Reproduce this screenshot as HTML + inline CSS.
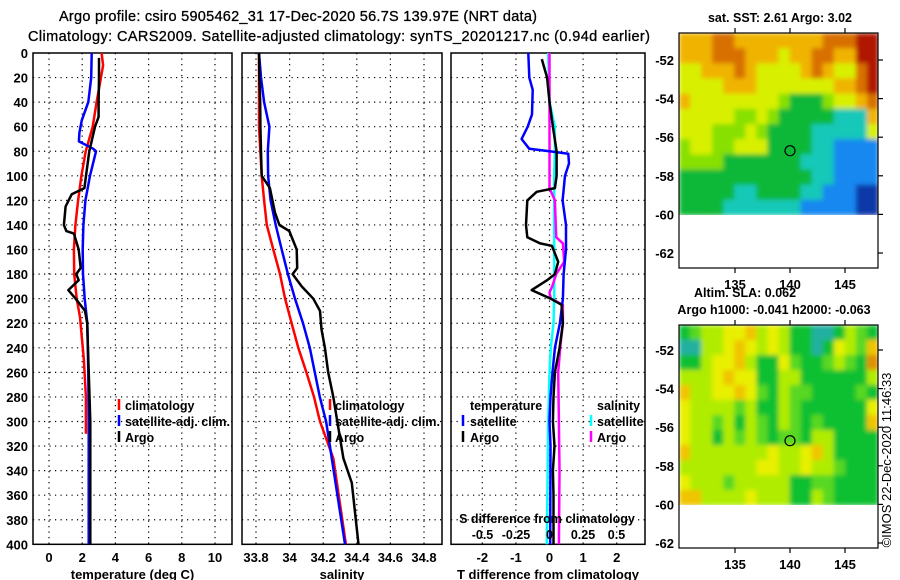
<!DOCTYPE html>
<html><head><meta charset="utf-8"><style>
html,body{margin:0;padding:0;background:#fff;}
svg{display:block;font-family:"Liberation Sans",sans-serif;}
text{fill:#000;}
</style></head><body>
<svg id="c" width="900" height="580" viewBox="0 0 900 580" xmlns="http://www.w3.org/2000/svg">
<defs>
<filter id="blur" x="0" y="0" width="1" height="1"><feGaussianBlur stdDeviation="2.5" edgeMode="duplicate"/></filter>
<clipPath id="clipTop"><rect x="679" y="33" width="199" height="182"/></clipPath>
<clipPath id="clipBot"><rect x="679" y="325" width="199" height="180"/></clipPath>
</defs>
</svg>
<script>
// ---------- data ----------
const depthTicks=[0,20,40,60,80,100,120,140,160,180,200,220,240,260,280,300,320,340,360,380,400];
const tempTicks=[0,2,4,6,8,10];
const salTicks=[33.8,34,34.2,34.4,34.6,34.8];
const tdiffTicks=[-2,-1,0,1,2];
const sdiffTicks=[-0.5,-0.25,0,0.25,0.5];
const sdiffTickLabels=['-0.5','-0.25','0','0.25','0.5'];

const climTDepth=[0,10,40,60,80,100,120,140,160,180,200,215,250,280,310];
const climTVal=[3.17,3.26,2.87,2.63,2.21,1.95,1.75,1.59,1.5,1.52,1.67,1.87,2.1,2.22,2.22];
const satTDepth=[0,20,40,55,65,72,78,80,100,120,140,160,180,200,220,260,300,400];
const satTVal=[2.57,2.54,2.37,1.97,1.83,1.8,2.67,2.83,2.47,2.19,2.07,2.03,2.05,2.15,2.31,2.37,2.39,2.39];
const argoTDepth=[4,20,40,52,60,80,100,110,115,125,140,145,147,160,175,180,185,193,200,210,220,300,400];
const argoTVal=[3.01,3.01,2.99,2.99,2.77,2.43,2.23,2.13,1.37,1.0,0.9,1.05,1.5,1.79,1.91,1.64,1.79,1.16,1.6,2.17,2.3,2.49,2.49];

const climSDepth=[0,60,100,120,140,160,180,200,220,240,260,280,300,330,400];
const climSVal=[33.818,33.818,33.834,33.848,33.864,33.903,33.943,33.973,34.012,34.052,34.10,34.145,34.181,34.26,34.335];
const satSDepth=[0,20,40,60,80,100,120,140,160,180,200,220,240,260,280,300,400];
const satSVal=[33.818,33.83,33.848,33.88,33.87,33.872,33.887,33.917,33.953,33.99,34.032,34.08,34.12,34.15,34.18,34.217,34.33];
const argoSDepth=[0,20,40,60,80,100,110,130,140,145,160,175,180,190,200,210,225,240,260,280,300,330,350,400];
const argoSVal=[33.818,33.82,33.825,33.826,33.83,33.834,33.883,33.913,33.939,33.998,34.042,34.045,34.018,34.072,34.141,34.181,34.19,34.21,34.23,34.26,34.284,34.32,34.37,34.41];

const satDTDepth=[0,20,30,50,60,70,78,80,82,90,100,120,140,160,180,200,220,240,260,280,300,320,400];
const satDTVal=[-0.63,-0.6,-0.5,-0.52,-0.65,-0.83,-0.6,0.0,0.56,0.58,0.46,0.39,0.49,0.49,0.42,0.4,0.31,0.16,0.09,0.03,0.0,0.03,0.02];
const argoDTDepth=[5,20,40,60,80,100,110,113,120,140,150,155,157,170,180,185,193,200,205,220,240,260,280,300,320,340,360,400];
const argoDTVal=[-0.23,-0.07,0.0,0.1,0.21,0.21,0.16,-0.38,-0.66,-0.7,-0.66,-0.28,0.07,0.26,0.16,-0.07,-0.53,0.04,0.36,0.4,0.3,0.16,0.12,0.1,0.15,0.1,0.12,0.12];
const argoDSDepth=[0,110,120,150,155,170,180,190,195,200,205,220,240,260,300,340,400];
const argoDSVal=[0.0,0.0,0.04,0.05,0.1,0.11,0.05,0.02,0.0,0.01,0.1,0.1,0.08,0.065,0.07,0.075,0.07];
const satDSDepth=[0,40,60,80,100,140,200,220,240,260,300,400];
const satDSVal=[-0.01,0.0,0.04,0.04,0.035,0.035,0.035,0.03,0.01,0.0,-0.01,-0.02];

const sstGrid=[
"666776666666677788","666777666566776688","556667655556765578","555566655555556678",
"655555555433345567","555554454333332226","555444543333222225","455445553333221111",
"444433333332221111","333333333333221111","333332233332211100","333322222221111100"];
const slaGrid=[
"123344534311001321","003345434311014325","113445311421123216","333454411331111113",
"533445421322111121","433332311321111114","433231321321211115","433132321221331111",
"533333334334531111","333333344334332111","433323333311221111","553333433311321111"];
const sstColors=['#0838a8','#1888f0','#18c8b8','#10b838','#88e000','#d8f000','#f0b400','#d87000','#b01800'];
const slaColors=['#20b0a0','#10c030','#58d820','#b0ec00','#e8f000','#f0c400','#e09000'];

// ---------- helpers ----------
const svg=document.getElementById('c');
const NS='http://www.w3.org/2000/svg';
function mk(tag,attrs,parent){const e=document.createElementNS(NS,tag);for(const k in attrs)e.setAttribute(k,attrs[k]);(parent||svg).appendChild(e);return e;}
function txt(x,y,s,anchor,size,parent){const t=mk('text',{x:x,y:y,'text-anchor':anchor||'middle','font-size':size||13,'font-weight':'bold'},parent);t.textContent=s;return t;}
const Y0=53,YS=1.2283;
function yD(d){return Y0+YS*d;}
const xT=v=>49+16.6*v;
const xS=v=>256+168*(v-33.8);
const xDT=v=>549.5+33.6*v;
const xDS=v=>549.5+134*v;

function panel(name,x0,x1,vticks,xf,labels,xlabel){
  const g=mk('g',{});
  
  
  depthTicks.forEach(d=>{if(d>0&&d<400){mk('line',{x1:x0,x2:x1,y1:yD(d),y2:yD(d),stroke:'#000','stroke-width':1.2,'stroke-dasharray':'1.2,4.3'},g);} });
  vticks.forEach(v=>{const x=xf(v);mk('line',{x1:x,x2:x,y1:Y0,y2:yD(400),stroke:'#000','stroke-width':1.2,'stroke-dasharray':'1.2,4.3'},g);});
  mk('rect',{x:x0,y:Y0,width:x1-x0,height:YS*400,fill:'none',stroke:'#000','stroke-width':1.5},g);
  if(labels){vticks.forEach((v,i)=>{const t=txt(xf(v),562,labels[i],'middle',13,g);});}
  const xl=txt((x0+x1)/2,579,xlabel,'middle',13,g);
  
  
  return g;
}
function line(g,depths,vals,xf,color,w,name){
  const p=depths.map((d,i)=>(i?'L':'M')+xf(vals[i]).toFixed(1)+','+yD(d).toFixed(1)).join(' ');
  const e=mk('path',{d:p,fill:'none',stroke:color,'stroke-width':w,'stroke-linejoin':'round'},g);
  
  
}
function legendItem(g,mx,tx,y,color,label,name,len){
  const lg=mk('g',{},g);
  
  
  mk('line',{x1:mx,x2:mx,y1:y-11,y2:y,stroke:color,'stroke-width':2.5},lg);
  const t=txt(tx,y,label,'start',12.5,lg);
  if(len){t.setAttribute('textLength',len);t.setAttribute('lengthAdjust','spacingAndGlyphs');}
}

// ---------- titles ----------
let t=txt(298,21,'Argo profile: csiro 5905462_31 17-Dec-2020 56.7S 139.97E (NRT data)','middle',14.5);
t.setAttribute('font-weight','normal');t.setAttribute('textLength','478');t.setAttribute('stroke','#000');t.setAttribute('stroke-width','0.3');

t=txt(339,41,'Climatology: CARS2009. Satellite-adjusted climatology: synTS_20201217.nc (0.94d earlier)','middle',14.5);
t.setAttribute('font-weight','normal');t.setAttribute('textLength','622');t.setAttribute('stroke','#000');t.setAttribute('stroke-width','0.3');


depthTicks.forEach(d=>{const l=txt(28,yD(d)+5,String(d),'end',13);});

// ---------- panel 1 ----------
const g1=panel('temperature-panel',33,232,tempTicks,xT,tempTicks.map(String),'temperature (deg C)');
line(g1,climTDepth,climTVal,xT,'#ff0000',2.5,'climatology-temperature-line');
line(g1,satTDepth,satTVal,xT,'#0000ff',2.5,'satellite-temperature-line');
line(g1,argoTDepth,argoTVal,xT,'#000000',2.5,'argo-temperature-line');
legendItem(g1,119,125,410,'#ff0000','climatology','legend-climatology');
legendItem(g1,119,125,426,'#0000ff','satellite-adj. clim.','legend-satellite-adj',105);
legendItem(g1,119,125,442,'#000000','Argo','legend-argo');

// ---------- panel 2 ----------
const g2=panel('salinity-panel',242,442,salTicks,xS,['33.8','34','34.2','34.4','34.6','34.8'],'salinity');
line(g2,climSDepth,climSVal,xS,'#ff0000',2.5,'climatology-salinity-line');
line(g2,satSDepth,satSVal,xS,'#0000ff',2.5,'satellite-salinity-line');
line(g2,argoSDepth,argoSVal,xS,'#000000',2.5,'argo-salinity-line');
legendItem(g2,330,335,410,'#ff0000','climatology','legend-climatology');
legendItem(g2,330,335,426,'#0000ff','satellite-adj. clim.','legend-satellite-adj',105);
legendItem(g2,330,335,442,'#000000','Argo','legend-argo');

// ---------- panel 3 ----------
const g3=panel('difference-panel',451,645,tdiffTicks,xDT,tdiffTicks.map(String),'T difference from climatology');
line(g3,satDSDepth,satDSVal,xDS,'#00ffff',2.5,'satellite-salinity-diff-line');
line(g3,argoDSDepth,argoDSVal,xDS,'#ff00ff',2.5,'argo-salinity-diff-line');
line(g3,satDTDepth,satDTVal,xDT,'#0000ff',2.5,'satellite-temperature-diff-line');
line(g3,argoDTDepth,argoDTVal,xDT,'#000000',2.5,'argo-temperature-diff-line');
t=txt(470,410,'temperature','start',12.5,g3);
t=txt(597,410,'salinity','start',12.5,g3);
legendItem(g3,463,470,426,'#0000ff','satellite','legend-temp-satellite');
legendItem(g3,463,470,442,'#000000','Argo','legend-temp-argo');
legendItem(g3,591,597,426,'#00ffff','satellite','legend-sal-satellite');
legendItem(g3,591,597,442,'#ff00ff','Argo','legend-sal-argo');
t=txt(547,523,'S difference from climatology','middle',12.5,g3);
sdiffTicks.forEach((v,i)=>{const l=txt(xDS(v),539,sdiffTickLabels[i],'middle',12.5,g3);});

// ---------- maps ----------
const lonTicks=[135,140,145];
const latTicks=[-52,-54,-56,-58,-60,-62];
function map(name,top,bottom,colorTop,colorBottom,grid,colors,lat0,pxPerLat,clipId,title1,title1y,title2,title2y){
  const g=mk('g',{});
  
  
  const x0=679,x1=878;
  const rows=grid.length,cols=grid[0].length;
  const cw=(x1-x0)/cols,ch=(colorBottom-colorTop)/rows;
  const outer=mk('g',{'clip-path':'url(#'+clipId+')'},g);
  const img=mk('g',{filter:'url(#blur)'},outer);
  
  
  grid.forEach((r,i)=>{for(let j=0;j<cols;j++){mk('rect',{x:(x0+j*cw).toFixed(2),y:(colorTop+i*ch).toFixed(2),width:(cw+0.6).toFixed(2),height:(ch+0.6).toFixed(2),fill:colors[+r[j]]},img);}});
  mk('rect',{x:x0,y:top,width:x1-x0,height:bottom-top,fill:'none',stroke:'#000','stroke-width':1.2},g);
  latTicks.forEach(lat=>{const y=lat0+(-52-lat)*pxPerLat;
    mk('line',{x1:x1,x2:x1+5,y1:y,y2:y,stroke:'#000','stroke-width':1.2},g);
    const l=txt(674,y+5,String(lat),'end',13,g);});
  lonTicks.forEach(lon=>{const x=735+(lon-135)*11;
    mk('line',{x1:x,x2:x,y1:top,y2:top-5,stroke:'#000','stroke-width':1.2},g);
    mk('line',{x1:x,x2:x,y1:bottom,y2:bottom+5,stroke:'#000','stroke-width':1.2},g);
    const l=txt(x,bottom+21,String(lon),'middle',13,g);});
  const cy=lat0+(-52+56.7)*pxPerLat;
  const m=mk('circle',{cx:790,cy:cy,r:5,fill:'none',stroke:'#000','stroke-width':1.2},g);
  
  
  let a=txt(title1[0],title1y,title1[1],'middle',12.5,g);
  if(title2){a=txt(title2[0],title2y,title2[1],'middle',12.5,g);}
}
map('sst-map',33,268,33,215,sstGrid,sstColors,60,19.3,'clipTop',[780,'sat. SST: 2.61 Argo: 3.02'],22,null,0);
map('sla-map',325,548,325,505,slaGrid,slaColors,350,19.3,'clipBot',[745,'Altim. SLA: 0.062'],297,[774,'Argo h1000: -0.041 h2000: -0.063'],314);

t=txt(0,0,'©IMOS 22-Dec-2020 11:46:33','middle',13);
t.setAttribute('font-weight','normal');
t.setAttribute('transform','translate(891,460) rotate(-90)');


</script>
</body></html>
